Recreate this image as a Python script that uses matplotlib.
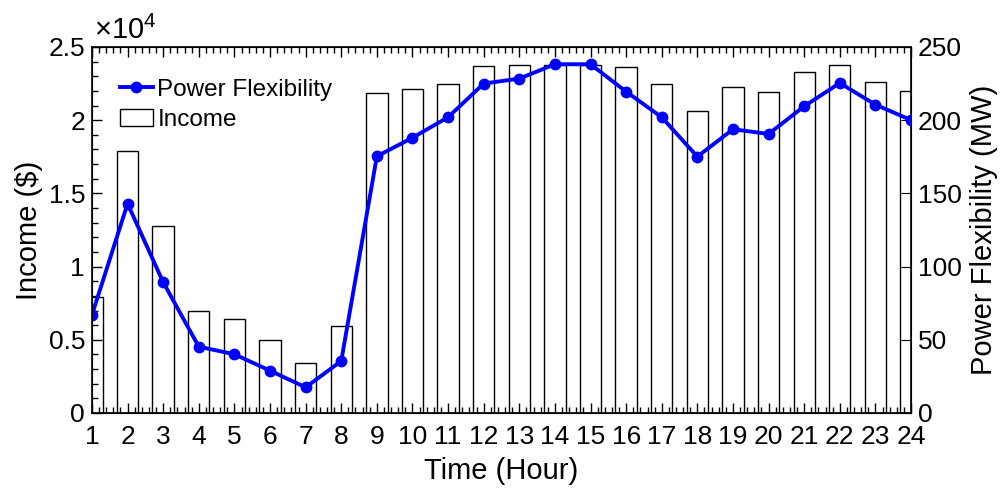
import numpy as np
import matplotlib
matplotlib.use("Agg")
import matplotlib.pyplot as plt
from matplotlib.ticker import FuncFormatter, MultipleLocator, AutoMinorLocator

plt.rcParams['font.family'] = ['Liberation Sans', 'DejaVu Sans']
plt.rcParams['mathtext.fontset'] = 'custom'
plt.rcParams['mathtext.rm'] = 'Liberation Sans'

hours = np.arange(1, 25)
income = [7900, 17900, 12800, 7000, 6400, 5000, 3400, 5950,
          21850, 22130, 22470, 23700, 23800, 23800, 23800, 23630,
          22450, 20600, 22290, 21930, 23270, 23750, 22610, 21970]
flex = [67, 143, 89.3, 45.3, 40.1, 28.9, 17.5, 35.5,
        175.3, 188, 202, 225, 228.4, 238.2, 238.2, 219.5,
        202, 175.1, 193.8, 190.6, 209.5, 225.4, 210.6, 200.1]

fig = plt.figure(figsize=(10.05, 4.93), dpi=100)
ax = fig.add_axes([0.0915, 0.1623, 0.815, 0.7424])
ax2 = ax.twinx()

bars = ax.bar(hours, income, width=0.6, color='white', edgecolor='black',
              linewidth=1.0, label='Income')
line, = ax2.plot(hours, flex, '-o', color='#0000ff', lw=2.8, ms=7.5,
                 label='Power Flexibility')

ax.set_xlim(1, 24)
ax.set_ylim(0, 25000)
ax2.set_ylim(0, 250)

ax.set_xticks(hours)
ax.xaxis.set_minor_locator(AutoMinorLocator(5))
ax.yaxis.set_major_locator(MultipleLocator(5000))
ax.yaxis.set_minor_locator(MultipleLocator(1000))
ax.yaxis.set_major_formatter(FuncFormatter(lambda v, p: '%g' % (v / 1e4)))
ax2.yaxis.set_major_locator(MultipleLocator(50))

tfs = 19
lfs = 21
ax.tick_params(which='both', direction='in', top=True, labelsize=tfs)
ax.tick_params(which='major', length=7, width=1, pad=5)
ax.tick_params(which='minor', length=4, width=1)
ax.tick_params(axis='x', which='major', pad=8.5)
ax.tick_params(axis='y', right=False)
ax2.tick_params(direction='in', length=7, labelsize=tfs, pad=5)

ax.set_xlabel('Time (Hour)', fontsize=lfs, labelpad=6)
ax.set_ylabel('Income ($)', fontsize=lfs, labelpad=4)
ax2.set_ylabel('Power Flexibility (MW)', fontsize=lfs, labelpad=6)
ax.text(0.002, 1.005, r'$\times 10^4$', transform=ax.transAxes, fontsize=21,
        ha='left', va='bottom')

for s in ax.spines.values():
    s.set_linewidth(1.2)

ax2.legend([line, bars], ['Power Flexibility', 'Income'], loc='upper left',
           bbox_to_anchor=(0.034, 0.913), frameon=False, fontsize=17.5,
           handlelength=1.35, handletextpad=0.2, borderaxespad=0,
           borderpad=0, labelspacing=0.35)

fig.savefig('out.png', dpi=100)
